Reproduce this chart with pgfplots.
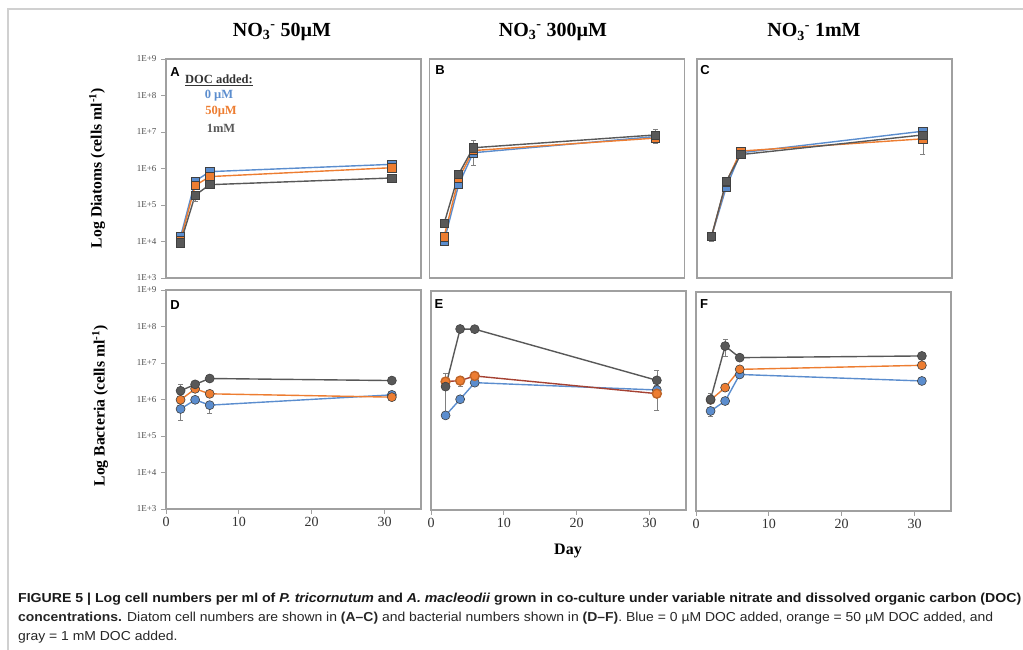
\documentclass[border=0pt]{standalone}
\usepackage{fontspec}
\setmainfont{Liberation Serif}
\newfontfamily\capfont{Liberation Sans}
\newfontfamily\letfont{Liberation Sans}
\usepackage{pgfplots}
\pgfplotsset{compat=1.18}
\definecolor{bl}{RGB}{91,141,206}
\definecolor{orc}{RGB}{237,125,49}
\definecolor{grc}{RGB}{88,88,88}
\definecolor{frm}{RGB}{160,160,160}
\definecolor{lightfr}{RGB}{208,208,208}
\definecolor{darkred}{RGB}{165,65,50}

\pgfplotsset{
 myPanel/.style={scale only axis, width=255pt, height=219pt, xmin=0, xmax=35,
   ymin=1e3, ymax=1e9, yminorticks=false, xminorticks=false,
   axis line style={draw=frm, line width=1.6pt},
   tick style={draw=frm, line width=0.8pt}, tick align=outside, major tick length=5pt,
   xtick pos=lower, ytick pos=left, xtick=\empty, ytick=\empty, clip=false},
 myLeft/.style={ytick={1e3,1e4,1e5,1e6,1e7,1e8,1e9},
   yticklabels={1E+3,1E+4,1E+5,1E+6,1E+7,1E+8,1E+9},
   yticklabel style={font=\fontsize{9}{9}\selectfont, text=black!70, xshift=-1pt}},
 myBot/.style={xtick={0,10,20,30}, xticklabels={0,10,20,30},
   xticklabel style={font=\fontsize{14}{14}\selectfont, text=black!80}},
 sB/.style={bl, line width=1.4pt, mark=square*, mark size=4.1pt, mark options={fill=bl, draw=black!75, line width=0.6pt}},
 sO/.style={orc, line width=1.4pt, mark=square*, mark size=4.1pt, mark options={fill=orc, draw=black!75, line width=0.6pt}},
 sG/.style={grc, line width=1.4pt, mark=square*, mark size=4.1pt, mark options={fill=grc, draw=black!75, line width=0.6pt}},
 cB/.style={bl, line width=1.4pt, mark=*, mark size=4.5pt, mark options={fill=bl, draw=black!75, line width=0.6pt}},
 cO/.style={orc, line width=1.4pt, mark=*, mark size=4.5pt, mark options={fill=orc, draw=black!75, line width=0.6pt}},
 cG/.style={grc, line width=1.4pt, mark=*, mark size=4.5pt, mark options={fill=grc, draw=black!75, line width=0.6pt}},
 ebar/.style={gray, line width=0.7pt, mark=-, mark size=2.5pt, forget plot, unbounded coords=jump},
}

\newlength\natw
\newcommand\lineone{\bfseries FIGURE 5 | Log cell numbers per ml of \textit{P. tricornutum} and \textit{A. macleodii} grown in co-culture under variable nitrate and dissolved organic carbon (DOC)}
\newcommand\linetwo{\textbf{concentrations.} Diatom cell numbers are shown in \textbf{(A–C)} and bacterial numbers shown in \textbf{(D–F)}. Blue = 0 µM DOC added, orange = 50 µM DOC added, and}
\newcommand\linethree{gray = 1 mM DOC added.}
\newcommand\capf{\capfont\fontsize{13}{13}\selectfont}

\begin{document}%
\settowidth\natw{\capf\lineone}%
\pgfmathsetmacro\scone{1003/\natw}%
\settowidth\natw{\capf\linetwo}%
\pgfmathsetmacro\sctwo{975/\natw}%
\begin{tikzpicture}[x=1pt,y=1pt]
\path[use as bounding box] (0,0) rectangle (1023,650);
\draw[lightfr, line width=1.5pt] (8,0) -- (8,641) -- (1023,641);

% ---------- A ----------
\begin{semilogyaxis}[myPanel, myLeft, at={(166pt,372pt)}, anchor=south west]
\addplot[ebar] coordinates {(4,1.25e5)(4,2.1e5)};
\addplot[sB] coordinates {(2,1.35e4)(4,4.5e5)(6,8.2e5)(31,1.3e6)};
\addplot[sO] coordinates {(2,1.1e4)(4,3.4e5)(6,6.0e5)(31,1.05e6)};
\addplot[sG] coordinates {(2,9.2e3)(4,1.85e5)(6,3.6e5)(31,5.5e5)};
\end{semilogyaxis}

% ---------- B ----------
\begin{semilogyaxis}[myPanel, at={(429.5pt,372pt)}, anchor=south west]
\addplot[ebar] coordinates {(6,1.2e6)(6,6.0e6)(6,nan)(31,4.8e6)(31,1.16e7)};
\addplot[sB] coordinates {(2,1.0e4)(4,3.6e5)(6,2.7e6)(31,7.5e6)};
\addplot[sO] coordinates {(2,1.35e4)(4,5.3e5)(6,3.1e6)(31,6.8e6)};
\addplot[sG] coordinates {(2,3.1e4)(4,7.0e5)(6,3.7e6)(31,8.3e6)};
\end{semilogyaxis}

% ---------- C ----------
\begin{semilogyaxis}[myPanel, at={(697pt,372pt)}, anchor=south west]
\addplot[ebar] coordinates {(31,2.5e6)(31,7.5e6)(31,nan)(2,1.0e4)(2,1.6e4)};
\addplot[sB] coordinates {(2,1.4e4)(4,3.0e5)(6,2.7e6)(31,1.05e7)};
\addplot[sO] coordinates {(2,1.4e4)(4,4.1e5)(6,3.0e6)(31,6.5e6)};
\addplot[sG] coordinates {(2,1.4e4)(4,4.4e5)(6,2.4e6)(31,8.3e6)};
\end{semilogyaxis}

% ---------- D ----------
\begin{semilogyaxis}[myPanel, myLeft, myBot, at={(166pt,141pt)}, anchor=south west]
\addplot[ebar] coordinates {(2,2.6e5)(2,6.5e5)(2,nan)(2,1.4e6)(2,2.6e6)(2,nan)(6,4.2e5)(6,8.0e5)};
\addplot[cB] coordinates {(2,5.5e5)(4,9.8e5)(6,7.0e5)(31,1.34e6)};
\addplot[cO] coordinates {(2,9.8e5)(4,1.96e6)(6,1.43e6)(31,1.16e6)};
\addplot[cG] coordinates {(2,1.73e6)(4,2.6e6)(6,3.76e6)(31,3.3e6)};
\end{semilogyaxis}

% ---------- E ----------
\begin{semilogyaxis}[myPanel, myBot, at={(431pt,140pt)}, anchor=south west]
\addplot[ebar] coordinates {(2,4.0e5)(2,5.6e6)(2,nan)(4,2.5e6)(4,4.5e6)(4,nan)(31,2.6e6)(31,6.6e6)(31,nan)(31,5.5e5)(31,1.8e6)};
\addplot[cB] coordinates {(2,3.9e5)(4,1.08e6)(6,3.08e6)(31,1.94e6)};
\addplot[cO, darkred, mark options={fill=orc, draw=orc!80!black}] coordinates {(2,3.3e6)(4,3.5e6)(6,4.7e6)(31,1.54e6)};
\addplot[cG] coordinates {(2,2.4e6)(4,9.1e7)(6,9.0e7)(31,3.57e6)};
\end{semilogyaxis}

% ---------- F ----------
\begin{semilogyaxis}[myPanel, myBot, at={(696pt,139pt)}, anchor=south west]
\addplot[ebar] coordinates {(4,1.7e7)(4,5.1e7)(4,nan)(2,3.8e5)(2,6.5e5)(2,nan)(2,9.5e5)(2,1.65e6)};
\addplot[cB] coordinates {(2,5.5e5)(4,1.03e6)(6,5.5e6)(31,3.65e6)};
\addplot[cO] coordinates {(2,1.1e6)(4,2.4e6)(6,7.6e6)(31,9.8e6)};
\addplot[cG] coordinates {(2,1.15e6)(4,3.3e7)(6,1.59e7)(31,1.77e7)};
\end{semilogyaxis}

% panel letters
\foreach \L/\X/\Y in {A/175/578, B/440/580, C/705/580, D/175/345, E/439/346, F/704/346}
  \node[font=\letfont\bfseries\fontsize{13}{13}\selectfont, inner sep=0] at (\X,\Y) {\L};

% legend in A
\node[font=\bfseries\fontsize{12.5}{12.5}\selectfont, text=black!80, inner sep=0] at (219,570) {\underline{DOC added:}};
\node[font=\bfseries\fontsize{12.5}{12.5}\selectfont, text=bl, inner sep=0] at (219,554) {0 µM};
\node[font=\bfseries\fontsize{12.5}{12.5}\selectfont, text=orc, inner sep=0] at (221,538) {50µM};
\node[font=\bfseries\fontsize{12.5}{12.5}\selectfont, text=grc, inner sep=0] at (221,522) {1mM};

% column titles
\node[font=\bfseries\fontsize{20}{20}\selectfont] at (282,618) {NO\textsubscript{3}\textsuperscript{-} 50µM};
\node[font=\bfseries\fontsize{20}{20}\selectfont] at (553,618) {NO\textsubscript{3}\textsuperscript{-} 300µM};
\node[font=\bfseries\fontsize{20}{20}\selectfont] at (814,618) {NO\textsubscript{3}\textsuperscript{-} 1mM};

% axis labels
\node[rotate=90, font=\bfseries\fontsize{15.7}{15.7}\selectfont] at (97,482) {Log Diatoms (cells ml\textsuperscript{-1})};
\node[rotate=90, font=\bfseries\fontsize{15.7}{15.7}\selectfont] at (100,244) {Log Bacteria (cells ml\textsuperscript{-1})};
\node[font=\bfseries\fontsize{16}{16}\selectfont] at (568,99) {Day};

% caption
\node[anchor=base west, inner sep=0, text=black!90] at (18,47.5) {\scalebox{\scone}[1]{\capf\lineone}};
\node[anchor=base west, inner sep=0, text=black!85] at (18,28.5) {\scalebox{\sctwo}[1]{\capf\linetwo}};
\node[anchor=base west, inner sep=0, text=black!85] at (18,9.5) {\scalebox{\sctwo}[1]{\capf\linethree}};
\end{tikzpicture}%
\end{document}
